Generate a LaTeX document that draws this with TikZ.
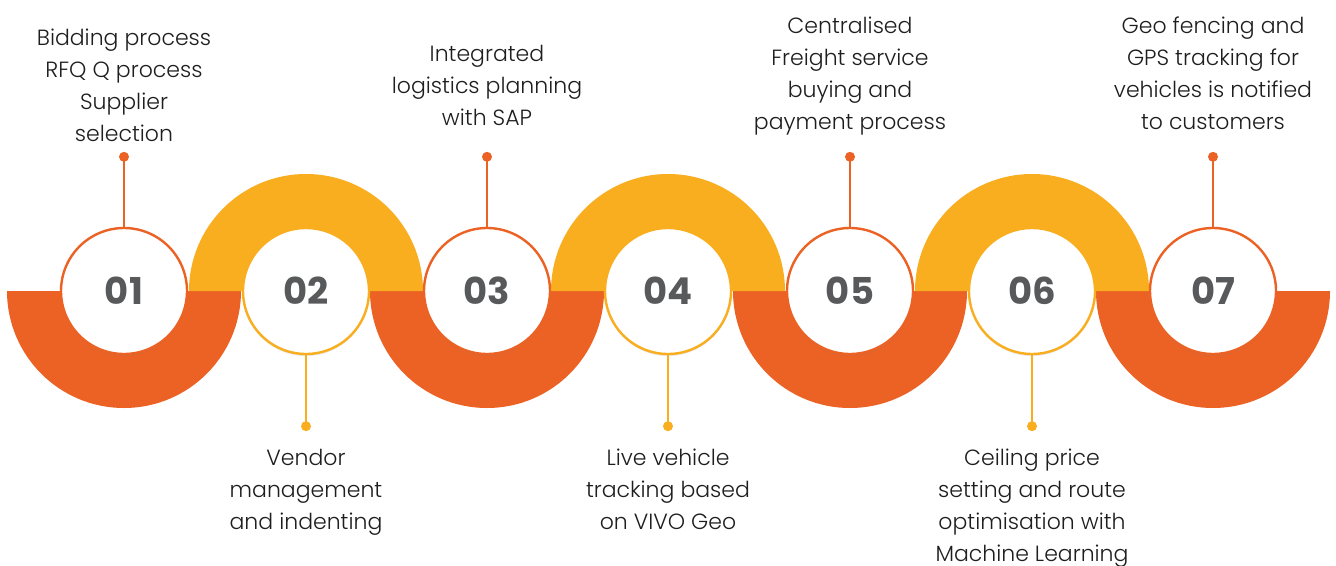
\documentclass[tikz,border=0pt]{standalone}
\usepackage{fontspec}
\setmainfont{Poppins}[UprightFont={* Light},BoldFont={* Bold}]
\usetikzlibrary{positioning, shadows}
\definecolor{StepOrange}{HTML}{EB6224}
\definecolor{StepYellow}{HTML}{F9AE1F}
\definecolor{DigitGrey}{HTML}{58595B}
\definecolor{LabelInk}{HTML}{1E1E1E}

\begin{document}
\begin{tikzpicture}[x=1pt,y=1pt,
    stepdisc/.style={circle, fill=white, line width=2.4pt, minimum size=126pt, inner sep=0pt,
      font=\fontsize{37}{37}\selectfont\bfseries, text=DigitGrey,
      drop shadow={opacity=0.18, shadow xshift=0pt, shadow yshift=-2pt}},
    steplabel/.style={align=center, inner sep=0pt, font=\fontsize{22}{32}\selectfont, text=LabelInk},
    stem/.style={line width=2pt}]
  \fill[white] (0,0) rectangle (1336,-565);
  \useasboundingbox (0,0) rectangle (1336,-565);
  % lower half rings
  \foreach \cx in {124,487,850,1213}
    \fill[StepOrange] (\cx-117,-291) arc[start angle=180, end angle=360, radius=117pt]
      -- (\cx+60,-291) arc[start angle=0, end angle=-180, radius=60pt] -- cycle;
  % upper half rings
  \foreach \cx in {306,668,1032}
    \fill[StepYellow] (\cx-117,-291) arc[start angle=180, end angle=0, radius=117pt]
      -- (\cx+60,-291) arc[start angle=0, end angle=180, radius=60pt] -- cycle;
  % discs
  \foreach \n/\cx/\col in {01/124/StepOrange, 03/487/StepOrange, 05/850/StepOrange,
      07/1213/StepOrange, 02/306/StepYellow, 04/668/StepYellow, 06/1032/StepYellow}
    \node[stepdisc, draw=\col] (s\n) at (\cx,-291) {\n};
  % stems and dots
  \foreach \n/\col in {01/StepOrange, 03/StepOrange, 05/StepOrange, 07/StepOrange}{
    \draw[stem, \col] (s\n.north) -- ++(0,70) coordinate (d\n);
    \fill[\col] (d\n) circle (5pt);}
  \foreach \n/\col in {02/StepYellow, 04/StepYellow, 06/StepYellow}{
    \draw[stem, \col] (s\n.south) -- ++(0,-71) coordinate (d\n);
    \fill[\col] (d\n) circle (5pt);}
  % labels
  \node[steplabel, anchor=north] (t01) at (124,-29) {Bidding process\\RFQ Q process\\Supplier\\selection};
  \node[steplabel, anchor=north] (t03) at (487,-45) {Integrated\\logistics planning\\with SAP};
  \node[steplabel, anchor=north] (t05) at (850,-17) {Centralised\\Freight service\\buying and\\payment process};
  \node[steplabel, anchor=north] (t07) at (1213,-17) {Geo fencing and\\GPS tracking for\\vehicles is notified\\to customers};
  \node[steplabel, anchor=north] (t02) at (306,-449) {Vendor\\management\\and indenting};
  \node[steplabel, anchor=north] (t04) at (668,-449) {Live vehicle\\tracking based\\on VIVO Geo};
  \node[steplabel, anchor=north] (t06) at (1032,-449) {Ceiling price\\setting and route\\optimisation with\\Machine Learning};
\end{tikzpicture}
\end{document}
